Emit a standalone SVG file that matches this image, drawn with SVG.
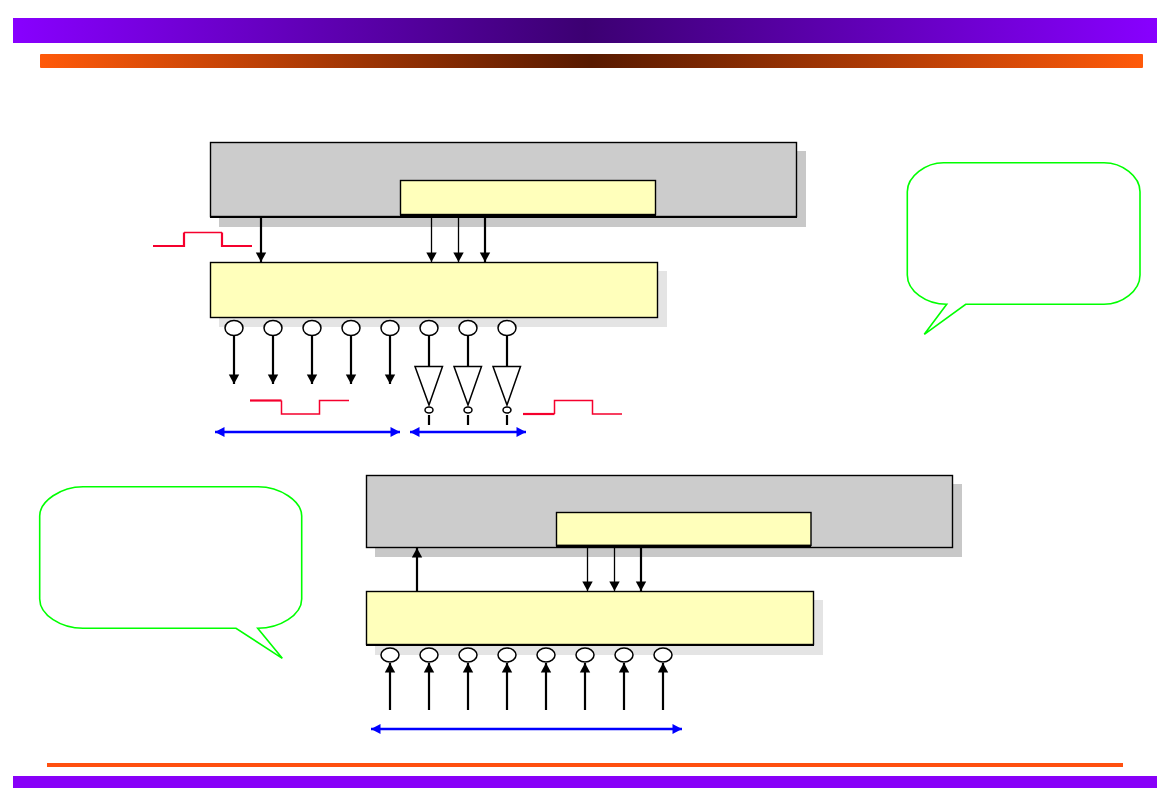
<svg xmlns="http://www.w3.org/2000/svg" width="1170" height="810" viewBox="0 0 1170 810">
  <style>
    .shadow-dark { fill: #c8c8c8; }
    .shadow-light { fill: #e4e4e4; }
    .unit { fill: #cccccc; stroke: #000; stroke-width: 1.4; }
    .block { fill: #ffffbb; stroke: #000; stroke-width: 1.4; }
    .pin { fill: #fff; stroke: #000; stroke-width: 1.5; }
    .wire { fill: none; stroke: #000; stroke-width: 2.2; }
    .thin { fill: none; stroke: #000; stroke-width: 1.3; }
    .pulse { fill: none; stroke: #f5002d; stroke-width: 1.5; }
    .pulse-thick { fill: none; stroke: #f5002d; stroke-width: 2.2; }
    .span { fill: none; stroke: #0000ff; stroke-width: 2.4; marker-start: url(#blueStart); marker-end: url(#blueEnd); }
    .callout { fill: #fff; stroke: #00ff00; stroke-width: 1.6; stroke-linejoin: miter; }
    .head { marker-end: url(#head); }
  </style>
  <defs>
    <linearGradient id="violetBand" x1="0" y1="0" x2="1" y2="0">
      <stop offset="0" stop-color="#8800ff"/>
      <stop offset="0.5" stop-color="#3c0072"/>
      <stop offset="1" stop-color="#8800ff"/>
    </linearGradient>
    <linearGradient id="orangeBand" x1="0" y1="0" x2="1" y2="0">
      <stop offset="0" stop-color="#ff5a0a"/>
      <stop offset="0.5" stop-color="#581a00"/>
      <stop offset="1" stop-color="#ff5a0a"/>
    </linearGradient>
    <marker id="head" markerUnits="userSpaceOnUse" markerWidth="12" markerHeight="12" refX="10" refY="6" orient="auto">
      <path d="M0.5 0.8 L10 6 L0.5 11.2 Z" fill="#000"/>
    </marker>
    <marker id="blueEnd" markerUnits="userSpaceOnUse" markerWidth="12" markerHeight="12" refX="10" refY="6" orient="auto">
      <path d="M0.5 1 L10 6 L0.5 11 Z" fill="#0000ff"/>
    </marker>
    <marker id="blueStart" markerUnits="userSpaceOnUse" markerWidth="12" markerHeight="12" refX="1" refY="6" orient="auto">
      <path d="M10.5 1 L1 6 L10.5 11 Z" fill="#0000ff"/>
    </marker>
  </defs>

  <rect width="1170" height="810" fill="#fff"/>

  <!-- page furniture -->
  <g id="header">
    <rect x="13" y="18" width="1144" height="25" fill="url(#violetBand)"/>
    <rect x="40" y="54" width="1103" height="14" rx="1" fill="url(#orangeBand)"/>
  </g>
  <g id="footer">
    <rect x="47" y="763" width="1076" height="4" fill="#ff5010"/>
    <rect x="13" y="776" width="1144" height="12" fill="#8800f8"/>
  </g>

  <!-- output path -->
  <g id="upper-unit">
    <rect class="shadow-dark" x="219" y="151" width="587" height="76"/>
    <rect class="unit" x="210.5" y="142.5" width="586" height="74"/>
    <path d="M210 217 H797" stroke="#000" stroke-width="2" fill="none"/>
  </g>
  <g id="upper-register">
    <rect class="block" x="400.5" y="180.5" width="255" height="34"/>
    <path d="M400 215.5 H656" stroke="#000" stroke-width="2.6" fill="none"/>
  </g>
  <g id="upper-latch">
    <rect class="shadow-light" x="219" y="271" width="448" height="56"/>
    <rect class="block" x="210.5" y="262.5" width="447" height="55"/>
  </g>
  <g id="output-pins">
    <ellipse class="pin" cx="234" cy="328" rx="9" ry="7.5"/>
    <ellipse class="pin" cx="273" cy="328" rx="9" ry="7.5"/>
    <ellipse class="pin" cx="312" cy="328" rx="9" ry="7.5"/>
    <ellipse class="pin" cx="351" cy="328" rx="9" ry="7.5"/>
    <ellipse class="pin" cx="390" cy="328" rx="9" ry="7.5"/>
    <ellipse class="pin" cx="429" cy="328" rx="9" ry="7.5"/>
    <ellipse class="pin" cx="468" cy="328" rx="9" ry="7.5"/>
    <ellipse class="pin" cx="507" cy="328" rx="9" ry="7.5"/>
  </g>
  <g id="inverter-1">
    <path class="pin" d="M415 366.5 H442.5 L429 405 Z"/>
    <ellipse class="pin" cx="429" cy="410" rx="4" ry="3"/>
  </g>
  <g id="inverter-2">
    <path class="pin" d="M454 366.5 H481.5 L468 405 Z"/>
    <ellipse class="pin" cx="468" cy="410" rx="4" ry="3"/>
  </g>
  <g id="inverter-3">
    <path class="pin" d="M493 366.5 H520.5 L507 405 Z"/>
    <ellipse class="pin" cx="507" cy="410" rx="4" ry="3"/>
  </g>

  <!-- input path -->
  <g id="lower-unit">
    <rect class="shadow-dark" x="375" y="484" width="587" height="73"/>
    <rect class="unit" x="366.5" y="475.5" width="586" height="72"/>
  </g>
  <g id="lower-register">
    <rect class="block" x="556.5" y="512.5" width="254.5" height="33"/>
    <path d="M556 546 H811" stroke="#000" stroke-width="2.6" fill="none"/>
  </g>
  <g id="lower-latch">
    <rect class="shadow-light" x="375" y="600" width="448" height="55"/>
    <rect class="block" x="366.5" y="591.5" width="447" height="53"/>
    <path d="M366 645 H814" stroke="#000" stroke-width="2" fill="none"/>
  </g>
  <g id="input-pins">
    <ellipse class="pin" cx="390" cy="655" rx="9" ry="7"/>
    <ellipse class="pin" cx="429" cy="655" rx="9" ry="7"/>
    <ellipse class="pin" cx="468" cy="655" rx="9" ry="7"/>
    <ellipse class="pin" cx="507" cy="655" rx="9" ry="7"/>
    <ellipse class="pin" cx="546" cy="655" rx="9" ry="7"/>
    <ellipse class="pin" cx="585" cy="655" rx="9" ry="7"/>
    <ellipse class="pin" cx="624" cy="655" rx="9" ry="7"/>
    <ellipse class="pin" cx="663" cy="655" rx="9" ry="7"/>
  </g>

  <!-- speech balloons -->
  <g id="callout-right">
    <path class="callout" d="M943.5 162.7 H1104 C1122 162.7 1140 176 1140 191.7 V275 C1140 291 1122 304.3 1104 304.3 H965.7 L924.3 334.3 L946.7 304.3 C926 304.3 907.3 291 907.3 275 V191.7 C907.3 176 926 162.7 943.5 162.7 Z"/>
  </g>
  <g id="callout-left">
    <path class="callout" d="M83 486.7 H258 C280 486.7 301.7 501 301.7 516 V599 C301.7 615 280 628.3 257.7 628.3 L282.3 658.3 L236 628.3 H83 C61 628.3 39.7 615 39.7 599 V516 C39.7 501 61 486.7 83 486.7 Z"/>
  </g>

  <!-- connectors -->
  <g id="connectors">
    <path class="wire head" d="M261 217 V262"/>
    <path class="thin head" d="M431.5 216 V262"/>
    <path class="thin head" d="M458.5 216 V262"/>
    <path class="wire head" d="M485 216 V262"/>

    <path class="wire head" d="M234 336 V384"/>
    <path class="wire head" d="M273 336 V384"/>
    <path class="wire head" d="M312 336 V384"/>
    <path class="wire head" d="M351 336 V384"/>
    <path class="wire head" d="M390 336 V384"/>

    <path class="wire" d="M429 336 V366"/>
    <path class="wire" d="M468 336 V366"/>
    <path class="wire" d="M507 336 V366"/>
    <path class="wire" d="M429 415 V425"/>
    <path class="wire" d="M468 415 V425"/>
    <path class="wire" d="M507 415 V425"/>

    <path class="wire head" d="M417 591 V548"/>
    <path class="thin head" d="M587.5 547 V591"/>
    <path class="thin head" d="M614.5 547 V591"/>
    <path class="wire head" d="M641 547 V591"/>

    <path class="wire head" d="M390 710 V663"/>
    <path class="wire head" d="M429 710 V663"/>
    <path class="wire head" d="M468 710 V663"/>
    <path class="wire head" d="M507 710 V663"/>
    <path class="wire head" d="M546 710 V663"/>
    <path class="wire head" d="M585 710 V663"/>
    <path class="wire head" d="M624 710 V663"/>
    <path class="wire head" d="M663 710 V663"/>

    <path class="span" d="M215 432 H400"/>
    <path class="span" d="M410 432 H526"/>
    <path class="span" d="M371 729 H682"/>
  </g>

  <!-- timing pulses -->
  <g id="pulses">
    <path class="pulse-thick" d="M153 246 H184 V232.5"/>
    <path class="pulse" d="M184 232.5 H222"/>
    <path class="pulse-thick" d="M222 232.5 V246 H252"/>
    <path class="pulse-thick" d="M250 400.5 H281.5"/>
    <path class="pulse" d="M281.5 400.5 V414 H319.5 V400.5 H349"/>
    <path class="pulse-thick" d="M523 414 H554.5"/>
    <path class="pulse" d="M554.5 414 V400.5 H592.5 V414 H622"/>
  </g>
</svg>
